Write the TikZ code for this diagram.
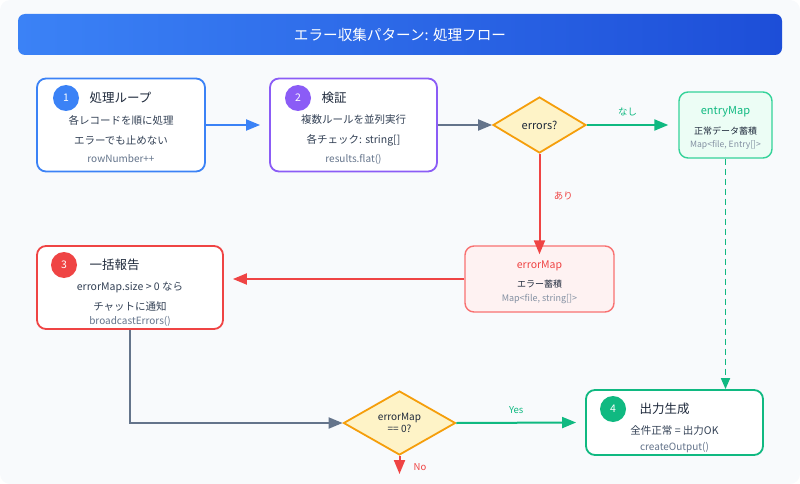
\documentclass[tikz,border=0pt]{standalone}
\usepackage{fontspec}
\setmainfont{Noto Sans CJK JP}
\usetikzlibrary{arrows.meta,shapes.geometric,calc}
\definecolor{bg}{HTML}{F8FAFC}
\definecolor{tA}{HTML}{3B82F6}
\definecolor{tB}{HTML}{1D4ED8}
\definecolor{cblue}{HTML}{3B82F6}
\definecolor{cpurple}{HTML}{8B5CF6}
\definecolor{cred}{HTML}{EF4444}
\definecolor{cgreen}{HTML}{10B981}
\definecolor{cgray}{HTML}{64748B}
\definecolor{ctext}{HTML}{1E293B}
\definecolor{csub}{HTML}{334155}
\definecolor{ccode}{HTML}{64748B}
\definecolor{dfill}{HTML}{FEF3C7}
\definecolor{dline}{HTML}{F59E0B}
\definecolor{gfill}{HTML}{ECFDF5}
\definecolor{gline}{HTML}{34D399}
\definecolor{rfill}{HTML}{FEF2F2}
\definecolor{rline}{HTML}{F87171}
\tikzset{
  stepbox/.style={draw=#1, line width=1.8pt, fill=white, rounded corners=9pt, inner sep=0pt},
  databox/.style={line width=1.4pt, rounded corners=9pt, inner sep=0pt},
  numdot/.style={circle, fill=#1, text=white, minimum size=26pt, inner sep=0pt, font=\fontsize{10.5}{12}\selectfont},
  ttl/.style={anchor=west, text=ctext, font=\fontsize{12.5}{14}\selectfont},
  body/.style={text=csub, font=\fontsize{10.5}{12}\selectfont},
  code/.style={text=ccode, font=\fontsize{10}{11}\selectfont},
  dec/.style={diamond, draw=dline, fill=dfill, line width=1.8pt, inner sep=0pt, aspect=1.65, text=ctext, align=center},
  arr/.style={line width=2pt, -{Triangle[length=14pt,width=11pt]}},
  lbl/.style={font=\fontsize{9.5}{11}\selectfont}
}
\begin{document}
\begin{tikzpicture}[x=1pt,y=-1pt]
\useasboundingbox (0,0) rectangle (800,484);
\fill[bg, rounded corners=10pt] (0,0) rectangle (800,484);
% title
\shade[left color=tA, right color=tB, rounded corners=7pt] (18,14) rectangle (782,55);
\node[text=white, font=\fontsize{14.6}{16}\selectfont] (title) at (400,34.5) {エラー収集パターン: 処理フロー};

% box 1
\node[stepbox=cblue, minimum width=168pt, minimum height=93pt] (b1) at (121,125) {};
\node[numdot=cblue] (n1) at (66,98) {1};
\node[ttl] (t1) at (86,98) {処理ループ};
\node[body] (l1a) at (121,120) {各レコードを順に処理};
\node[body] (l1b) at (121,140) {エラーでも止めない};
\node[code] (l1c) at (121,159) {rowNumber++};

% box 2
\node[stepbox=cpurple, minimum width=167pt, minimum height=93pt] (b2) at (353.5,125) {};
\node[numdot=cpurple] (n2) at (298,98) {2};
\node[ttl] (t2) at (318,98) {検証};
\node[body] (l2a) at (353.5,120) {複数ルールを並列実行};
\node[body] (l2b) at (353.5,140) {各チェック: string[]};
\node[code] (l2c) at (353.5,159) {results.flat()};

% decision 1
\node[dec, minimum width=93pt, minimum height=56pt, font=\fontsize{11}{13}\selectfont] (d1) at (539.5,125) {errors?};

% entryMap
\node[databox, draw=gline, fill=gfill, minimum width=93pt, minimum height=66pt] (em) at (725.5,125) {};
\node[text=cgreen, font=\fontsize{11}{12}\selectfont] (em1) at (725.5,112) {entryMap};
\node[text=ctext, font=\fontsize{9}{10}\selectfont] (em2) at (725.5,131) {正常データ蓄積};
\node[text=ccode!80, font=\fontsize{8.6}{10}\selectfont] (em3) at (725.5,145.5) {Map<file, Entry[]>};

% errorMap
\node[databox, draw=rline, fill=rfill, minimum width=149pt, minimum height=66pt] (erm) at (539.5,279) {};
\node[text=cred, font=\fontsize{10.5}{12}\selectfont] (er1) at (539.5,265.5) {errorMap};
\node[text=ctext, font=\fontsize{9}{10}\selectfont] (er2) at (539.5,284) {エラー蓄積};
\node[text=ccode!80, font=\fontsize{9}{10}\selectfont] (er3) at (539.5,299) {Map<file, string[]>};

% box 3
\node[stepbox=cred, minimum width=186pt, minimum height=83pt] (b3) at (130,287.5) {};
\node[numdot=cred] (n3) at (64,265) {3};
\node[ttl] (t3) at (86,265) {一括報告};
\node[body] (l3a) at (130,287) {errorMap.size > 0 なら};
\node[body] (l3b) at (130,307) {チャットに通知};
\node[code] (l3c) at (130,321.5) {broadcastErrors()};

% decision 2
\node[dec, minimum width=112pt, minimum height=64pt, font=\fontsize{10}{12}\selectfont] (d2) at (399.5,423) {errorMap\\== 0?};

% box 4
\node[stepbox=cgreen, minimum width=177pt, minimum height=65pt] (b4) at (674.5,422.5) {};
\node[numdot=cgreen] (n4) at (613,409) {4};
\node[ttl] (t4) at (636,409) {出力生成};
\node[body] (l4a) at (674.5,431) {全件正常 = 出力OK};
\node[code] (l4c) at (674.5,447.5) {createOutput()};

\coordinate (noend) at (399.5,474);

% connectors
\draw[arr, cblue] (b1.east) -- ([xshift=-9pt]b2.west);
\draw[arr, cgray] (b2.east) -- (d1.west);
\draw[arr, cgreen] (d1.east) -- ([xshift=-10pt]em.west) node[midway, above=5pt, lbl, text=cgreen] {なし};
\draw[arr, cred] (d1.south) -- ([yshift=-9pt]erm.north) node[pos=0.42, right=10pt, lbl, text=cred] {あり};
\draw[arr, cred] (erm.west) -- ([xshift=9pt]erm.west -| b3.east);
\draw[arr, cgray] (b3.south) |- (d2.west);
\draw[arr, cgreen] (d2.east) -- ([xshift=-9pt]b4.west) node[midway, above=5pt, lbl, text=cgreen] {Yes};
\draw[arr, cred] (d2.south) -- (noend);
\node[lbl, text=cred] (nolbl) at (420,467) {No};
\draw[cgreen, line width=1.7pt, dash pattern=on 6pt off 4pt, -{Triangle[length=11pt,width=9pt]}] (em.south) -- (em.south |- b4.north);
\end{tikzpicture}
\end{document}
